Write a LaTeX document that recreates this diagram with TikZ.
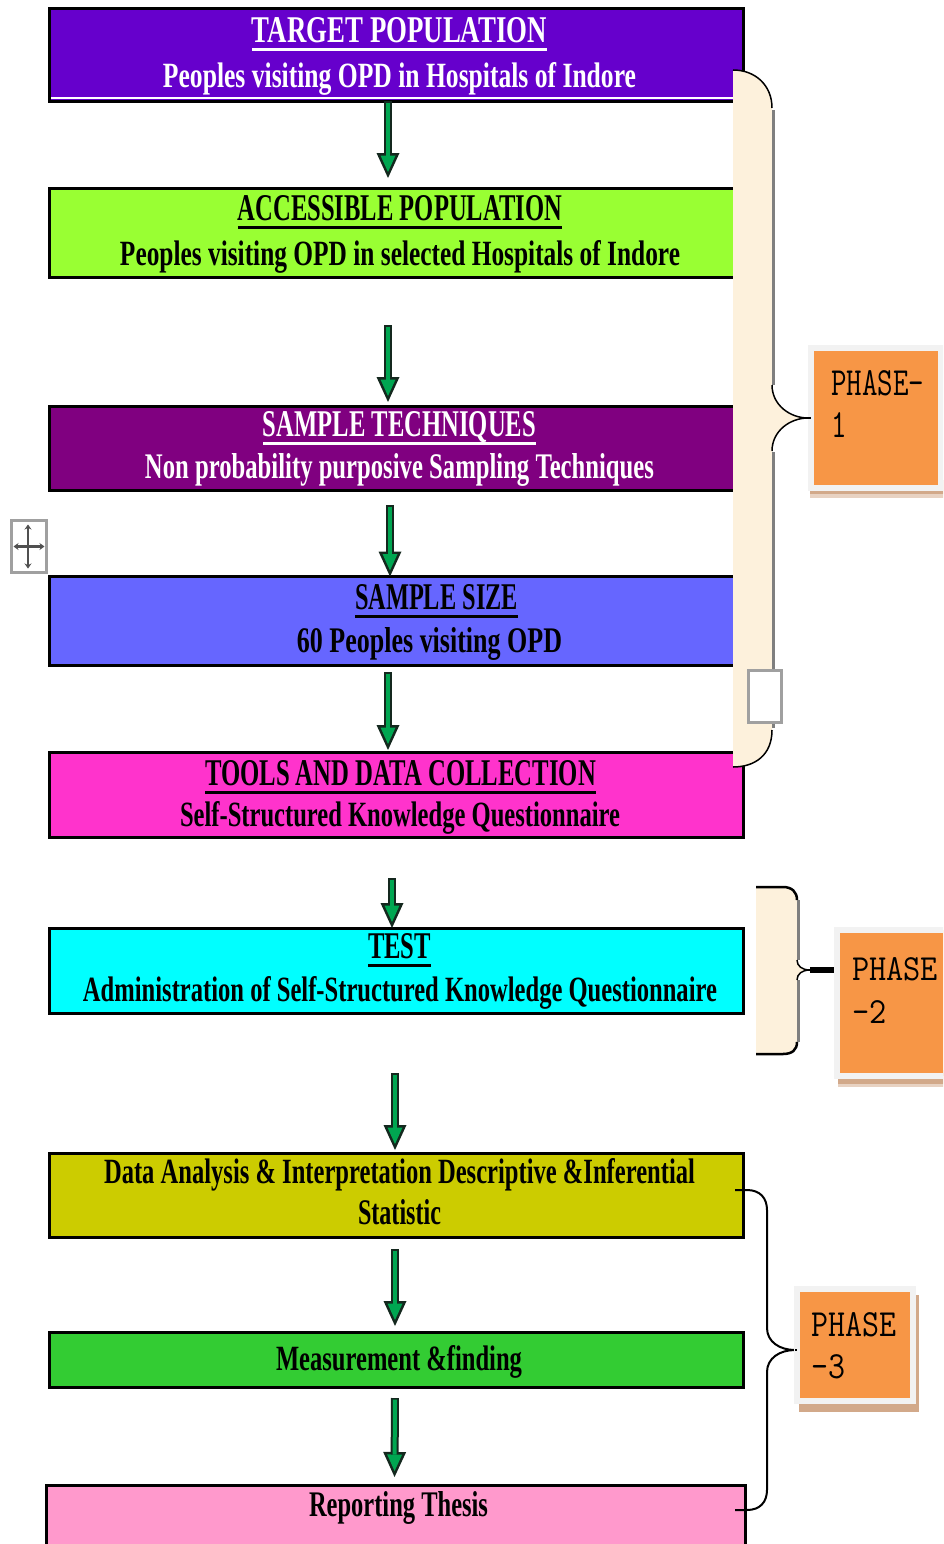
\documentclass[tikz,border=0pt]{standalone}
\usepackage{fontspec}
\setmainfont{Liberation Serif}
\usetikzlibrary{arrows.meta}
\definecolor{c1}{HTML}{6600CC}
\definecolor{c2}{HTML}{99FF33}
\definecolor{c3}{HTML}{800080}
\definecolor{c4}{HTML}{6666FF}
\definecolor{c5}{HTML}{FF33CC}
\definecolor{c6}{HTML}{00FFFF}
\definecolor{c7}{HTML}{CCCC00}
\definecolor{c8}{HTML}{33CC33}
\definecolor{c9}{HTML}{FF99CC}
\definecolor{arrgreen}{RGB}{0,166,81}
\definecolor{arrdark}{RGB}{20,40,30}
\definecolor{cream}{HTML}{FDF1DC}
\definecolor{phorange}{HTML}{F79646}
\definecolor{phframe}{HTML}{F2F2F2}
\definecolor{phshadow}{HTML}{D2A98A}
\definecolor{phshadowl}{HTML}{E8D2C2}
\definecolor{shgray}{HTML}{7F7F7F}
\definecolor{icongray}{HTML}{A0A0A0}
\definecolor{icondark}{HTML}{505050}
\newcommand\fitw[3]{\resizebox{#1pt}{#2pt}{#3}}
\tikzset{
  box/.style={draw=black, line width=3pt, rectangle, inner sep=0pt, outer sep=0pt},
  txt/.style={inner sep=0pt, outer sep=0pt, anchor=base, font=\fontsize{36}{40}\selectfont\bfseries},
  ul/.style={line width=3pt},
  gout/.style={draw=arrdark, line width=8pt, -{Triangle[width=23pt,length=25pt,line width=0pt]}},
  gin/.style={draw=arrgreen, line width=4pt, -{Triangle[width=15pt,length=16.5pt,line width=0pt]}},
  phase/.style={rectangle, fill=phorange, draw=phframe, line width=6pt, inner sep=0pt, outer sep=0pt},
  phtxt/.style={inner sep=0pt, outer sep=0pt, anchor=base west, font=\ttfamily\fontsize{42}{44}\selectfont},
  bcurve/.style={draw=black, line width=1.5pt},
  bshadow/.style={draw=shgray, line width=3.5pt},
}
\newcommand\garrow[5]{%
  \pgfmathsetmacro\gsa{#4+1.5}\pgfmathsetmacro\gsb{#5+6}%
  \draw[gout, shorten <=#4pt, shorten >=#5pt] ([xshift=#1pt]#2.south) -- ([xshift=#1pt]#3.north);
  \draw[gin, shorten <=\gsa pt, shorten >=\gsb pt] ([xshift=#1pt]#2.south) -- ([xshift=#1pt]#3.north);}
\begin{document}
\begin{tikzpicture}[x=1pt,y=-1pt]
\useasboundingbox (0,0) rectangle (943,1544);
\clip (0,0) rectangle (943,1544);

% boxes
\node[box, fill=c1, minimum width=694pt, minimum height=93pt] (b1) at (396.5,55) {};
\draw[white, line width=2.5pt] ([xshift=1.5pt,yshift=3.5pt]b1.south west) -- ([xshift=-1.5pt,yshift=3.5pt]b1.south east);
\node[box, fill=c2, minimum width=694pt, minimum height=89pt] (b2) at (396.5,233) {};
\node[box, fill=c3, minimum width=694pt, minimum height=84pt] (b3) at (396.5,448) {};
\node[box, fill=c4, minimum width=694pt, minimum height=88.5pt] (b4) at (396.5,620.75) {};
\node[box, fill=c5, minimum width=694pt, minimum height=85pt] (b5) at (396.5,794.5) {};
\node[box, fill=c6, minimum width=694pt, minimum height=85pt] (b6) at (396.5,970.5) {};
\node[box, fill=c7, minimum width=694pt, minimum height=84pt] (b7) at (396.5,1195.5) {};
\node[box, fill=c8, minimum width=694pt, minimum height=54.5pt] (b8) at (396.5,1359.75) {};
\node[box, fill=c9, minimum width=699pt, minimum height=75pt] (b9) at (396,1522.5) {};

% texts
\node[txt, text=white] (t1a) at (399.5,43) {\fitw{295}{25}{TARGET POPULATION}};
\draw[ul, white] ([yshift=-7pt]t1a.base west) -- ([yshift=-7pt]t1a.base east);
\node[txt, text=white] (t1b) at (399.5,88) {\fitw{473}{25}{Peoples visiting OPD in Hospitals of Indore}};

\node[txt] (t2a) at (400,220) {\fitw{324}{25}{ACCESSIBLE POPULATION}};
\draw[ul] ([yshift=-7pt]t2a.base west) -- ([yshift=-7pt]t2a.base east);
\node[txt] (t2b) at (400,265) {\fitw{560}{25}{Peoples visiting OPD in selected Hospitals of Indore}};

\node[txt, text=white] (t3a) at (399.5,436) {\fitw{273}{25}{SAMPLE TECHNIQUES}};
\draw[ul, white] ([yshift=-7pt]t3a.base west) -- ([yshift=-7pt]t3a.base east);
\node[txt, text=white] (t3b) at (399.5,478) {\fitw{509}{25}{Non probability purposive Sampling Techniques}};

\node[txt] (t4a) at (436.5,609) {\fitw{163}{25}{SAMPLE SIZE}};
\draw[ul] ([yshift=-7pt]t4a.base west) -- ([yshift=-7pt]t4a.base east);
\node[txt] (t4b) at (429.5,652) {\fitw{265}{25}{60 Peoples visiting OPD}};

\node[txt] (t5a) at (400.5,785) {\fitw{391}{25}{TOOLS AND DATA COLLECTION}};
\draw[ul] ([yshift=-7pt]t5a.base west) -- ([yshift=-7pt]t5a.base east);
\node[txt] (t5b) at (400,826) {\fitw{440}{25}{Self-Structured Knowledge Questionnaire}};

\node[txt] (t6a) at (399.5,958) {\fitw{63}{25}{TEST}};
\draw[ul] ([yshift=-7pt]t6a.base west) -- ([yshift=-7pt]t6a.base east);
\node[txt] (t6b) at (400,1001) {\fitw{634}{25}{Administration of Self-Structured Knowledge Questionnaire}};

\node[txt] (t7a) at (399.5,1183) {\fitw{591}{25}{Data Analysis \& Interpretation Descriptive \&Inferential}};
\node[txt] (t7b) at (399.5,1224) {\fitw{83}{25}{Statistic}};

\node[txt] (t8) at (399,1370) {\fitw{246}{25}{Measurement \&finding}};
\node[txt] (t9) at (398.5,1516) {\fitw{179}{25}{Reporting Thesis}};

% arrows
\garrow{-8.5}{b1}{b2}{0}{10.5}
\garrow{-8.5}{b2}{b3}{47.5}{4}
\garrow{-6.5}{b3}{b4}{15}{0}
\garrow{-8.5}{b4}{b5}{7}{2}
\garrow{-4.5}{b5}{b6}{41}{0}
\garrow{-1.5}{b6}{b7}{60}{3.5}
\garrow{-1.5}{b7}{b8}{11.5}{6.5}
\garrow{-1.5}{b8}{b9}{11}{8}

% brace 1
\fill[cream] (733,70) .. controls (755,70) and (772,85) .. (772,108) -- (772,385)
  .. controls (772,405) and (790,418) .. (808,418)
  .. controls (790,418) and (772,431) .. (772,451) -- (772,730)
  .. controls (772,755) and (755,767) .. (733,767) -- cycle;
\draw[bshadow] (773.5,110) -- (773.5,385);
\draw[bshadow] (773.5,452) -- (773.5,728);
\draw[bcurve] (733,70) .. controls (755,70) and (772,85) .. (772,108);
\draw[bcurve] (772,385) .. controls (772,405) and (790,418) .. (808,418)
  .. controls (790,418) and (772,431) .. (772,451);
\draw[bcurve] (772,730) .. controls (772,755) and (755,767) .. (733,767);
\coordinate (br1tip) at (808,418);
\node[draw=icongray, fill=white, line width=3pt, minimum width=33pt, minimum height=52pt, inner sep=0pt] (sq) at (764.5,696.5) {};

% phase 1
\fill[phshadow] (810,480) rectangle (946,494);
\fill[phshadowl] (810,494) rectangle (946,498);
\node[phase, minimum width=130pt, minimum height=140.5pt] (p1) at (876,417.75) {};
\draw[line width=1.5pt] (br1tip) -- (br1tip -| p1.west);
\node[phtxt] (p1a) at (831,395) {\fitw{93}{25}{PHASE-}};
\node[phtxt] (p1b) at (831,437) {\fitw{93}{25}{1\phantom{HASE-}}};

% brace 2
\fill[cream] (756,887) -- (783,887) .. controls (792,887) and (797,892) .. (797,900) -- (797,960)
  .. controls (797,966) and (802,970) .. (810,970)
  .. controls (802,970) and (797,974) .. (797,980) -- (797,1042)
  .. controls (797,1050) and (792,1054) .. (783,1054) -- (756,1054) -- cycle;
\draw[bshadow] (798.5,900) -- (798.5,960);
\draw[bshadow] (798.5,980) -- (798.5,1042);
\draw[bcurve, line width=2.5pt] (756,887) -- (783,887) .. controls (792,887) and (797,892) .. (797,900);
\draw[bcurve] (797,960) .. controls (797,966) and (802,970) .. (810,970)
  .. controls (802,970) and (797,974) .. (797,980);
\draw[bcurve, line width=2.5pt] (797,1042) .. controls (797,1050) and (792,1054) .. (783,1054) -- (756,1054);
\coordinate (br2tip) at (810,970);

% phase 2
\fill[phshadow] (838,1070) rectangle (950,1084);
\fill[phshadowl] (838,1084) rectangle (950,1087);
\node[phase, minimum width=113.5pt, minimum height=146pt] (p2) at (893.25,1003) {};
\draw[line width=6pt, black, shorten >=2.5pt] (br2tip) -- (br2tip -| p2.west);
\node[phtxt] (p2a) at (852,980) {\fitw{86}{23}{PHASE}};
\node[phtxt] (p2b) at (852,1023) {\fitw{86}{23}{-2\phantom{ASE}}};

% brace 3
\coordinate (br3tip) at (795,1350);
\draw[black, line width=2pt] (735,1190) -- (747,1190) .. controls (760,1190) and (767,1198) .. (767,1210) -- (767,1328)
  .. controls (767,1342) and (780,1350) .. (br3tip)
  .. controls (780,1350) and (767,1358) .. (767,1372) -- (767,1490)
  .. controls (767,1502) and (760,1510) .. (747,1510) -- (735,1510);

% phase 3
\fill[phshadow] (799,1295) rectangle (919,1412);
\node[phase, minimum width=116pt, minimum height=111.5pt] (p3) at (854.5,1344.75) {};
\draw[black, line width=2pt] (br3tip) -- (br3tip -| p3.west);
\node[phtxt] (p3a) at (811,1336) {\fitw{85}{24}{PHASE}};
\node[phtxt] (p3b) at (811,1378) {\fitw{85}{24}{-3\phantom{ASE}}};

% move icon
\node[draw=icongray, fill=white, line width=3pt, minimum width=35pt, minimum height=52pt, inner sep=0pt] (mv) at (29,546.5) {};
\draw[icondark, line width=2.5pt, {Stealth[length=5pt,width=7pt]}-{Stealth[length=5pt,width=7pt]}] ([xshift=-1pt,yshift=-5.5pt]mv.north) -- ([xshift=-1pt,yshift=5.5pt]mv.south);
\draw[icondark, line width=2.5pt, {Stealth[length=5pt,width=7pt]}-{Stealth[length=5pt,width=7pt]}] ([xshift=3.5pt]mv.west) -- ([xshift=-3.5pt]mv.east);
\end{tikzpicture}
\end{document}
